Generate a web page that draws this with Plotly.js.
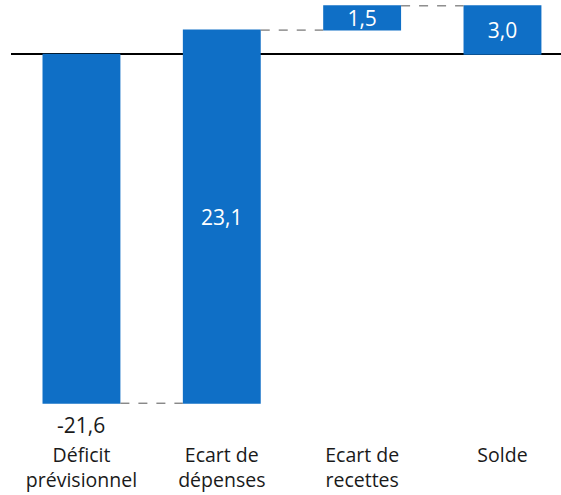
<!DOCTYPE html>
<html>
<head>
<meta charset="utf-8">
<script src="https://cdn.plot.ly/plotly-3.0.1.min.js"></script>
<style>html,body{margin:0;padding:0;background:#fff;}#chart{width:561px;height:495px;}</style>
</head>
<body>
<div id="chart"></div>
<script>
const categories = ["Déficit<br>prévisionnel", "Ecart de<br>dépenses", "Ecart de<br>recettes", "Solde"];
const values = [-21.6, 23.1, 1.5, 3.0];
const measures = ["relative", "relative", "relative", "total"];
const labels = values.map(v => v.toFixed(1).replace('.', ','));

const blue = "#0F6FC6";
const FONT = "'Open Sans', sans-serif";
const trace = {
  type: "waterfall",
  x: categories,
  y: values,
  measure: measures,
  text: labels.map((t, i) => i === 0 ? "" : t),
  textinfo: "text",
  textposition: ["none", "inside", "inside", "inside"],
  insidetextanchor: "middle",
  constraintext: "none",
  cliponaxis: false,
  insidetextfont: {color: "#ffffff", size: 21, family: FONT},
  increasing: {marker: {color: blue}},
  decreasing: {marker: {color: blue}},
  totals: {marker: {color: blue}},
  connector: {mode: "between", line: {color: "#555555", width: 1, dash: "dash"}},
  width: 0.555,
  hoverinfo: "skip"
};

const layout = {
  width: 561, height: 495,
  margin: {l: 11, r: 0, t: 0, b: 75},
  paper_bgcolor: "#ffffff", plot_bgcolor: "#ffffff",
  separators: ", ",
  showlegend: false,
  font: {family: FONT, size: 20, color: "#1a1a1a"},
  xaxis: {
    range: [-0.502, 3.417],
    showgrid: false, zeroline: false, showline: false,
    ticks: "", ticklabelstandoff: 21,
    tickfont: {size: 19.5, color: "#1a1a1a", family: FONT},
    fixedrange: true
  },
  yaxis: {
    range: [-22.64, 3.362],
    showgrid: false, showticklabels: false, ticks: "",
    zeroline: true, zerolinecolor: "#000000", zerolinewidth: 2,
    showline: false, fixedrange: true
  },
  annotations: [{
    x: categories[0], y: values[0],
    xref: "x", yref: "y",
    text: labels[0], showarrow: false,
    yanchor: "top", yshift: -6,
    font: {size: 21, color: "#1a1a1a", family: FONT}
  }]
};

Plotly.newPlot("chart", [trace], layout, {displayModeBar: false, staticPlot: true});
</script>
</body>
</html>
